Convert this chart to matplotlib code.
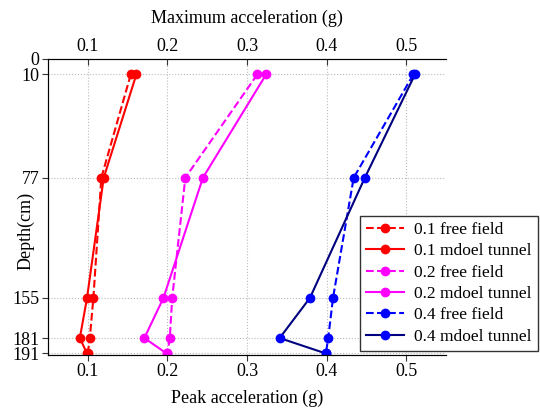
import numpy as np
import matplotlib.pyplot as plt

plt.rcParams['font.family'] = ['Liberation Serif', 'DejaVu Serif']
plt.rcParams['font.size'] = 13

depth = [10, 77, 155, 181, 191]
depth_ticks = [0, 10, 77, 155, 181, 191]
acc_ticks = [0.1, 0.2, 0.3, 0.4, 0.5]

free_01 = [0.154, 0.117, 0.107, 0.1025, 0.100]
tunnel_01 = [0.161, 0.120, 0.099, 0.090, 0.099]
free_02 = [0.313, 0.2225, 0.206, 0.203, 0.200]
tunnel_02 = [0.324, 0.2446, 0.195, 0.171, 0.199]
free_04 = [0.509, 0.434, 0.408, 0.402, 0.399]
tunnel_04 = [0.511, 0.448, 0.379, 0.341, 0.399]

fig = plt.figure(figsize=(5.4, 4.08), dpi=100)
ax = fig.add_axes([0.0889, 0.1299, 0.7371, 0.7255])

lw = 1.5
ms = 6
ax.plot(free_01, depth, '--o', color='#ff0000', lw=lw, ms=ms, label='0.1 free field')
ax.plot(tunnel_01, depth, '-o', color='#ff0000', lw=lw, ms=ms, label='0.1 mdoel tunnel')
ax.plot(free_02, depth, '--o', color='#ff00ff', lw=lw, ms=ms, label='0.2 free field')
ax.plot(tunnel_02, depth, '-o', color='#ff00ff', lw=lw, ms=ms, label='0.2 mdoel tunnel')
ax.plot(free_04, depth, '--o', color='#0000ff', lw=lw, ms=ms, label='0.4 free field')
ax.plot(tunnel_04, depth, '-o', color='#000080', mfc='#0000ff', mec='#0000ff',
        lw=lw, ms=ms, label='0.4 mdoel tunnel')

ax.set_xlim(0.05, 0.55)
ax.set_ylim(192, 0)
ax.set_xticks(acc_ticks)
ax.set_xticklabels([str(t) for t in acc_ticks])
ax.set_yticks(depth_ticks)
ax.grid(True, linestyle=':', color='#bbbbbb', lw=0.8)
ax.spines['right'].set_visible(False)
for s in ['left', 'top', 'bottom']:
    ax.spines[s].set_color('#333333')
ax.tick_params(direction='out', length=4, color='#333333', pad=2)
ax.set_xlabel('Peak acceleration (g)', labelpad=7)
ax.set_ylabel('Depth(cm)')
# label sits low, between the 77 and 155 ticks
ax.yaxis.set_label_coords(-0.033, 0.42)

ax2 = ax.twiny()
ax2.set_xlim(ax.get_xlim())
ax2.set_xticks(acc_ticks)
ax2.set_xticklabels([str(t) for t in acc_ticks])
ax2.spines['right'].set_visible(False)
ax2.tick_params(direction='in', length=4, color='#333333', pad=3)
ax2.set_xlabel('Maximum acceleration (g)', labelpad=11)

leg = ax.legend(loc='lower right', bbox_to_anchor=(0.996, 0.14),
                bbox_transform=fig.transFigure, fancybox=False,
                edgecolor='#333333', framealpha=1, fontsize=12.5,
                handlelength=2.2, borderpad=0.35, labelspacing=0.3,
                handletextpad=0.6, borderaxespad=0)
leg.get_frame().set_linewidth(1.0)

fig.savefig('out.png', dpi=100)
